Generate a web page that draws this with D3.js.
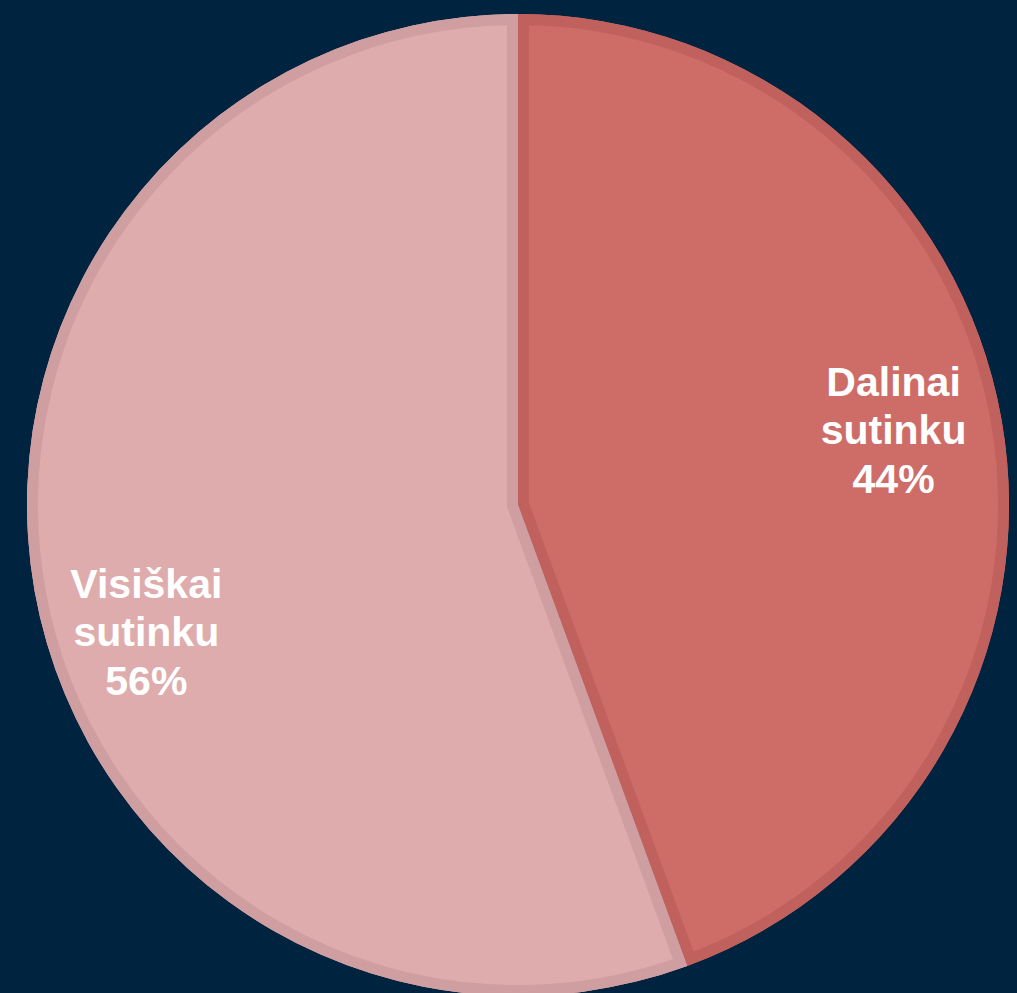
<!DOCTYPE html>
<html lang="lt">
<head>
  <meta charset="UTF-8">
  <title>Pie</title>
  <style>
    body { margin: 0; background: #00233f; }
    svg { display: block; }
    .lbl { font-family: "Liberation Sans", Arial, sans-serif; font-weight: bold; fill: #fff; font-size: 41px; }
  </style>
</head>
<body>
  <svg></svg>
  <script src="https://d3js.org/d3.v7.min.js"></script>
  <script>
    var labels = [["Dalinai", "sutinku"], ["Visiškai", "sutinku"]];
    var values = [44.4, 55.6];
    var fills = ["#ce6d68", "#deacad"];
    var borders = ["#c1615d", "#cf9ea0"];

    var width = 1017, height = 993;
    var cx = 518, cy = 505, radius = 491;

    var svg = d3.select("svg").attr("width", width).attr("height", height);
    var g = svg.append("g").attr("transform", "translate(" + cx + "," + cy + ")");

    var pie = d3.pie().sort(null).value(d => d);
    var arcs = pie(values);
    var arc = d3.arc().innerRadius(0).outerRadius(radius);

    var defs = svg.append("defs");
    arcs.forEach(function(a, i) {
      defs.append("clipPath").attr("id", "clip" + i)
        .append("path").attr("d", arc(a));
    });

    var slices = g.selectAll("g.slice").data(arcs).enter().append("g").attr("class", "slice");
    slices.append("path")
      .attr("d", arc)
      .attr("fill", (d, i) => fills[i]);
    slices.append("path")
      .attr("d", arc)
      .attr("fill", "none")
      .attr("stroke", (d, i) => borders[i])
      .attr("stroke-width", 22)
      .attr("stroke-linejoin", "miter")
      .attr("clip-path", (d, i) => "url(#clip" + i + ")");

    // labels: placed near centroid, nudged like Excel's best fit
    var labelR = [0.78, 0.80];
    var labelShift = [-1.2, -8.8];
    g.selectAll("text.lbl").data(arcs).enter().append("text")
      .attr("class", "lbl")
      .attr("text-anchor", "middle")
      .each(function(d, i) {
        var ang = (d.startAngle + d.endAngle) / 2 + labelShift[i] * Math.PI / 180;
        var r = radius * labelR[i];
        var x = r * Math.sin(ang), y = -r * Math.cos(ang);
        var t = d3.select(this);
        var lines = labels[i].concat([Math.round(values[i]) + "%"]);
        lines.forEach(function(s, k) {
          t.append("tspan").attr("x", x).attr("y", y + (k - 1) * 48.5 + 14).text(s);
        });
      });
  </script>
</body>
</html>
